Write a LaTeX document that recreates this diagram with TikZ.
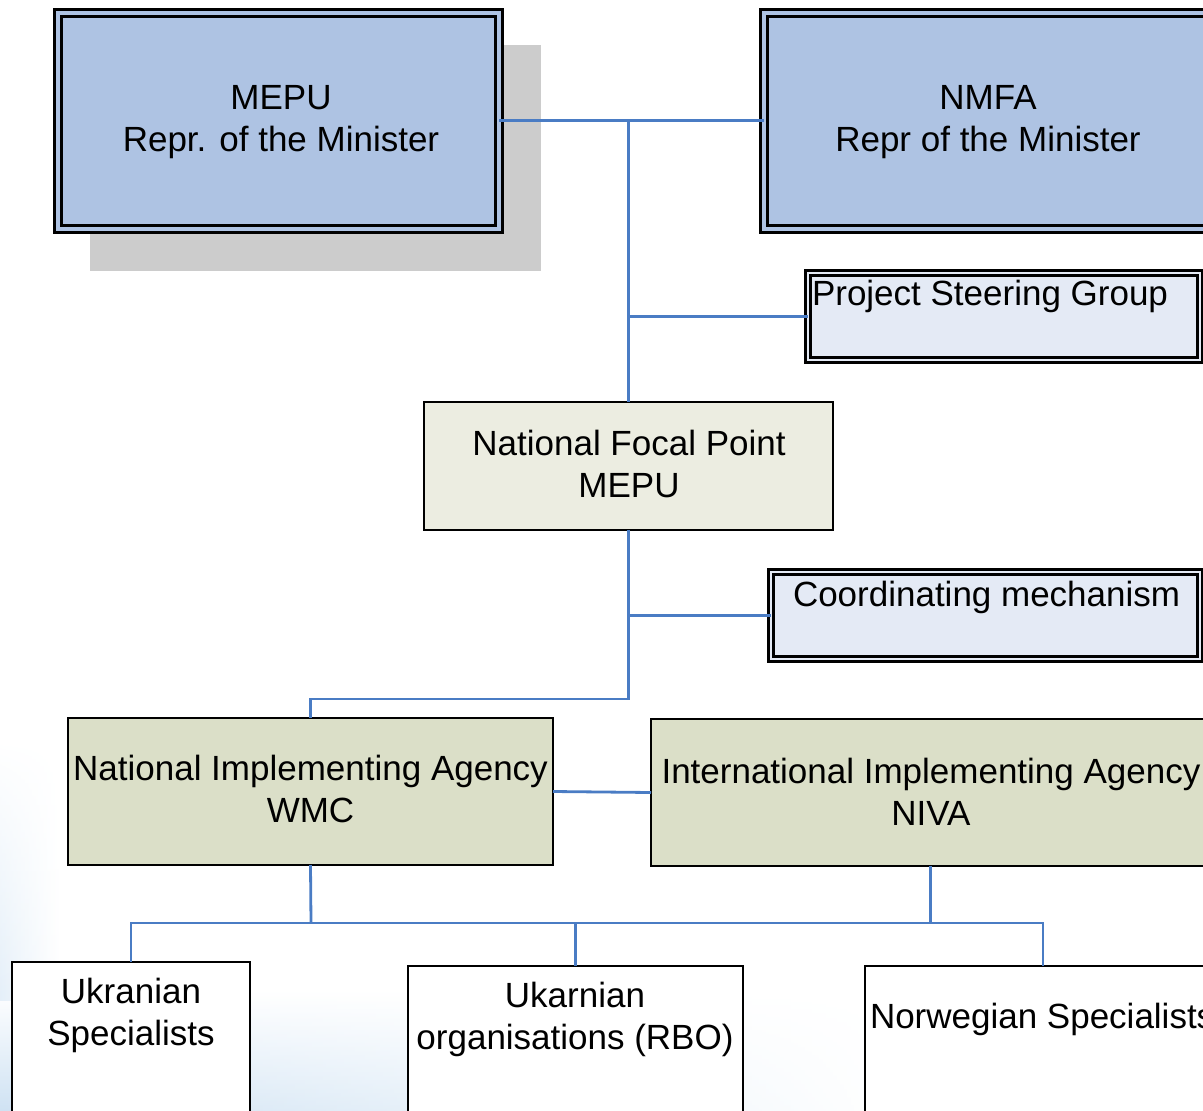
\documentclass[tikz,border=0pt]{standalone}
\usepackage{fontspec}
\setmainfont{Liberation Sans}
\usetikzlibrary{fadings}
\definecolor{topblue}{HTML}{AEC3E3}
\definecolor{shadowgray}{HTML}{CCCCCC}
\definecolor{paleblue}{HTML}{E4EAF5}
\definecolor{focalfill}{HTML}{ECEDE1}
\definecolor{agencyfill}{HTML}{DBDFC8}
\definecolor{linkblue}{HTML}{4A7CC4}
\definecolor{bgblue}{HTML}{CFE2F3}
\tikzfading[name=faderight, left color=transparent!0, right color=transparent!100]
\tikzfading[name=fadeup, top color=transparent!100, bottom color=transparent!0]
\begin{document}
\begin{tikzpicture}[x=1pt,y=-1pt,
  box/.style={draw=black, rectangle, inner sep=0pt, outer sep=0pt, line width=2.8pt},
  bigdbox/.style={rectangle, inner sep=0pt, outer sep=0pt, draw=black, line width=3pt,
     double=#1, double distance=4pt, fill=#1},
  smalldbox/.style={rectangle, inner sep=0pt, outer sep=0pt, draw=black, line width=2.5pt,
     double=#1, double distance=2.5pt, fill=#1},
  txt/.style={inner sep=0pt, outer sep=0pt, align=center, font=\fontsize{35}{42}\selectfont},
  link/.style={draw=linkblue, line width=2.8pt}
]
\useasboundingbox (0,0) rectangle (1203,1111);
\clip (0,0) rectangle (1203,1111);

% background haze
\shade[top color=white, bottom color=bgblue, path fading=faderight] (0,990) rectangle (900,1111);
\shade[left color=bgblue!55, right color=white, path fading=fadeup] (0,740) rectangle (60,1000);

% shadow of the MEPU box
\fill[shadowgray] (90,45) rectangle (541,271);

% boxes
\node[bigdbox=topblue, minimum width=441.5pt, minimum height=216.5pt] (mepu) at (278.25,120.75) {};
\node[bigdbox=topblue, minimum width=446pt, minimum height=216.5pt] (nmfa) at (987,120.75) {};
\node[smalldbox=paleblue, minimum width=392pt, minimum height=87pt] (psg) at (1004,316.5) {};
\node[smalldbox=paleblue, minimum width=429pt, minimum height=87pt] (coord) at (985.5,615.5) {};
\node[box, fill=focalfill, minimum width=409pt, minimum height=128pt] (focal) at (628.5,466) {};
\node[box, fill=agencyfill, minimum width=485pt, minimum height=147pt] (nia) at (310.5,791.5) {};
\node[box, fill=agencyfill, minimum width=559pt, minimum height=147pt] (iia) at (930.5,792.5) {};
\node[box, fill=white, minimum width=238pt, minimum height=163pt] (ukr) at (131,1043.5) {};
\node[box, fill=white, minimum width=335pt, minimum height=159pt] (rbo) at (575.5,1045.5) {};
\node[box, fill=white, minimum width=356pt, minimum height=159pt] (nor) at (1043,1045.5) {};

% texts
\node[txt] (mepuT) at (281,122) {MEPU\\Repr. of the Minister};
\node[txt] (nmfaT) at (988,122) {NMFA\\Repr of the Minister};
\node[txt, anchor=base west] (psgT) at (812,305) {Project Steering Group};
\node[txt, anchor=base west] (coordT) at (793,606) {Coordinating mechanism};
\node[txt] (focalT) at (629,464) {National Focal Point\\MEPU};
\node[txt] (niaT) at (310.5,789) {National Implementing Agency\\WMC};
\node[txt] (iiaT) at (931,791.5) {International Implementing Agency\\NIVA};
\node[txt] (ukrT) at (131,1015) {Ukranian\\Specialists};
\node[txt] (rboT) at (575,1019.5) {Ukarnian\\organisations (RBO)};
\node[txt, anchor=base west] (norT) at (870,1028) {Norwegian Specialists};

% connectors
\coordinate (jtop) at (mepu.east -| focal.north);
\coordinate (jmid) at (628.5,699);
\coordinate (bus) at (311,923);
\draw[link] (mepu.east) -- (nmfa.west);
\draw[link] (jtop) -- (focal.north);
\draw[link] (focal.north |- psg.west) -- (psg.west);
\draw[link] (focal.south |- coord.west) -- (coord.west);
\draw[link] (focal.south) -- (jmid) -| (nia.north);
\draw[link] (nia.east) -- (iia.west);
\draw[link] (nia.south) -- (bus);
\draw[link] (iia.south) -- (iia.south |- bus);
\draw[link] (ukr.north) |- (nor.north |- bus) -- (nor.north);
\draw[link] (rbo.north |- bus) -- (rbo.north);
\end{tikzpicture}
\end{document}
